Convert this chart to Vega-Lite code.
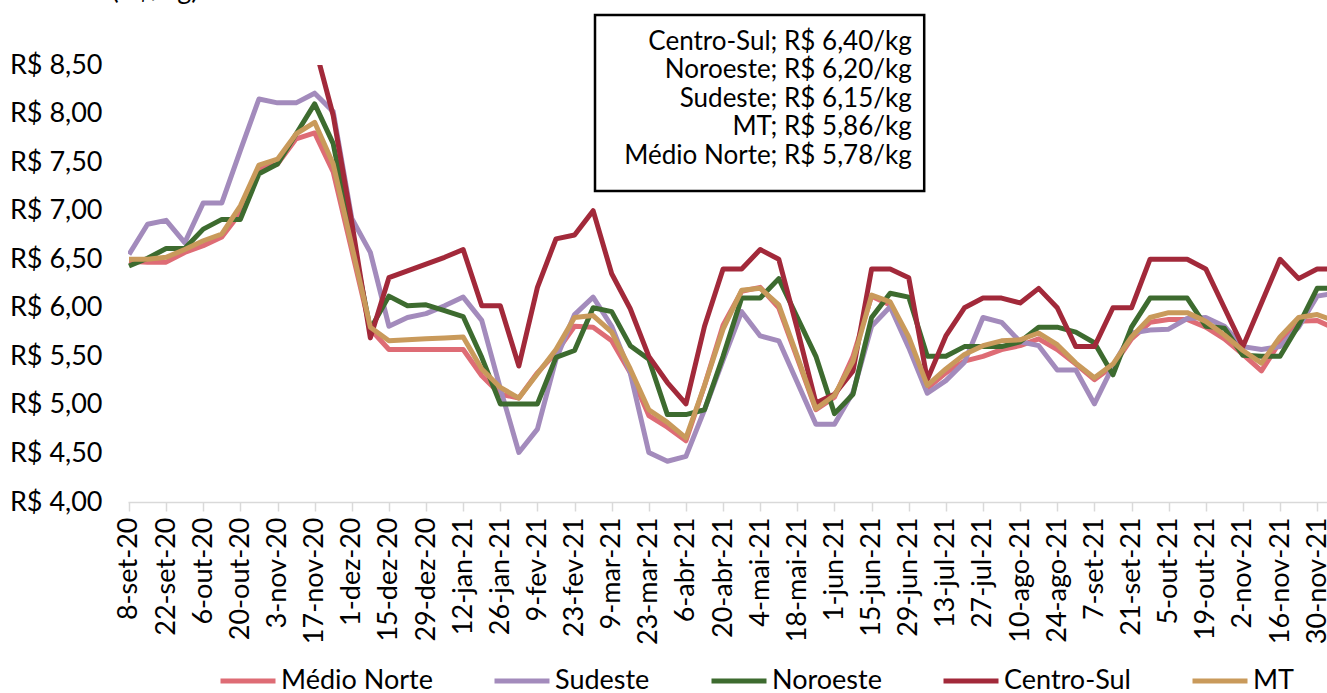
{
  "$schema": "https://vega.github.io/schema/vega-lite/v6.json",
  "width": 1199,
  "height": 437,
  "autosize": "none",
  "padding": {"left": 128, "top": 65, "right": 0, "bottom": 191},
  "background": "white",
  "config": {"view": {"stroke": null}, "font": "Lato", "axisX": {"labelOverlap": false, "labelFlush": false, "labelBound": false}},
  "layer": [
    {
      "data": {"values": [
        {"d": "2020-09-08", "Médio Norte": 6.48, "Sudeste": 6.55, "Noroeste": 6.43, "Centro-Sul": null, "MT": 6.50},
        {"d": "2020-09-15", "Médio Norte": 6.47, "Sudeste": 6.86, "Noroeste": 6.51, "Centro-Sul": null, "MT": 6.50},
        {"d": "2020-09-22", "Médio Norte": 6.47, "Sudeste": 6.90, "Noroeste": 6.61, "Centro-Sul": null, "MT": 6.52},
        {"d": "2020-09-29", "Médio Norte": 6.57, "Sudeste": 6.67, "Noroeste": 6.61, "Centro-Sul": null, "MT": 6.60},
        {"d": "2020-10-06", "Médio Norte": 6.64, "Sudeste": 7.08, "Noroeste": 6.81, "Centro-Sul": null, "MT": 6.69},
        {"d": "2020-10-13", "Médio Norte": 6.73, "Sudeste": 7.08, "Noroeste": 6.91, "Centro-Sul": null, "MT": 6.76},
        {"d": "2020-10-20", "Médio Norte": 6.98, "Sudeste": 7.62, "Noroeste": 6.91, "Centro-Sul": null, "MT": 7.05},
        {"d": "2020-10-27", "Médio Norte": 7.43, "Sudeste": 8.15, "Noroeste": 7.38, "Centro-Sul": null, "MT": 7.47},
        {"d": "2020-11-03", "Médio Norte": 7.48, "Sudeste": 8.11, "Noroeste": 7.48, "Centro-Sul": null, "MT": 7.53},
        {"d": "2020-11-10", "Médio Norte": 7.74, "Sudeste": 8.11, "Noroeste": 7.79, "Centro-Sul": null, "MT": 7.79},
        {"d": "2020-11-17", "Médio Norte": 7.80, "Sudeste": 8.21, "Noroeste": 8.10, "Centro-Sul": 8.70, "MT": 7.91},
        {"d": "2020-11-24", "Médio Norte": 7.40, "Sudeste": 8.02, "Noroeste": 7.69, "Centro-Sul": 7.98, "MT": 7.48},
        {"d": "2020-12-01", "Médio Norte": 6.59, "Sudeste": 6.92, "Noroeste": 6.74, "Centro-Sul": 6.88, "MT": 6.64},
        {"d": "2020-12-08", "Médio Norte": 5.78, "Sudeste": 6.57, "Noroeste": 5.78, "Centro-Sul": 5.69, "MT": 5.80},
        {"d": "2020-12-15", "Médio Norte": 5.57, "Sudeste": 5.81, "Noroeste": 6.12, "Centro-Sul": 6.31, "MT": 5.66},
        {"d": "2020-12-22", "Médio Norte": 5.57, "Sudeste": 5.90, "Noroeste": 6.02, "Centro-Sul": 6.38, "MT": 5.67},
        {"d": "2020-12-29", "Médio Norte": 5.57, "Sudeste": 5.94, "Noroeste": 6.03, "Centro-Sul": 6.45, "MT": 5.68},
        {"d": "2021-01-05", "Médio Norte": 5.57, "Sudeste": 6.02, "Noroeste": 5.97, "Centro-Sul": 6.52, "MT": 5.69},
        {"d": "2021-01-12", "Médio Norte": 5.57, "Sudeste": 6.11, "Noroeste": 5.91, "Centro-Sul": 6.60, "MT": 5.70},
        {"d": "2021-01-19", "Médio Norte": 5.30, "Sudeste": 5.87, "Noroeste": 5.49, "Centro-Sul": 6.02, "MT": 5.37},
        {"d": "2021-01-26", "Médio Norte": 5.11, "Sudeste": 5.17, "Noroeste": 5.01, "Centro-Sul": 6.02, "MT": 5.18},
        {"d": "2021-02-02", "Médio Norte": 5.07, "Sudeste": 4.51, "Noroeste": 5.01, "Centro-Sul": 5.40, "MT": 5.07},
        {"d": "2021-02-09", "Médio Norte": 5.33, "Sudeste": 4.75, "Noroeste": 5.01, "Centro-Sul": 6.21, "MT": 5.32},
        {"d": "2021-02-16", "Médio Norte": 5.54, "Sudeste": 5.47, "Noroeste": 5.49, "Centro-Sul": 6.71, "MT": 5.57},
        {"d": "2021-02-23", "Médio Norte": 5.81, "Sudeste": 5.93, "Noroeste": 5.56, "Centro-Sul": 6.75, "MT": 5.90},
        {"d": "2021-03-02", "Médio Norte": 5.80, "Sudeste": 6.11, "Noroeste": 6.00, "Centro-Sul": 7.00, "MT": 5.92},
        {"d": "2021-03-09", "Médio Norte": 5.66, "Sudeste": 5.81, "Noroeste": 5.96, "Centro-Sul": 6.35, "MT": 5.75},
        {"d": "2021-03-16", "Médio Norte": 5.33, "Sudeste": 5.33, "Noroeste": 5.61, "Centro-Sul": 5.99, "MT": 5.37},
        {"d": "2021-03-23", "Médio Norte": 4.89, "Sudeste": 4.51, "Noroeste": 5.47, "Centro-Sul": 5.50, "MT": 4.95},
        {"d": "2021-03-30", "Médio Norte": 4.77, "Sudeste": 4.42, "Noroeste": 4.90, "Centro-Sul": 5.23, "MT": 4.82},
        {"d": "2021-04-06", "Médio Norte": 4.63, "Sudeste": 4.47, "Noroeste": 4.90, "Centro-Sul": 5.01, "MT": 4.66},
        {"d": "2021-04-13", "Médio Norte": 5.20, "Sudeste": 4.95, "Noroeste": 4.95, "Centro-Sul": 5.81, "MT": 5.20},
        {"d": "2021-04-20", "Médio Norte": 5.82, "Sudeste": 5.46, "Noroeste": 5.50, "Centro-Sul": 6.40, "MT": 5.78},
        {"d": "2021-04-27", "Médio Norte": 6.17, "Sudeste": 5.96, "Noroeste": 6.10, "Centro-Sul": 6.40, "MT": 6.18},
        {"d": "2021-05-04", "Médio Norte": 6.21, "Sudeste": 5.71, "Noroeste": 6.10, "Centro-Sul": 6.60, "MT": 6.20},
        {"d": "2021-05-11", "Médio Norte": 6.00, "Sudeste": 5.66, "Noroeste": 6.30, "Centro-Sul": 6.50, "MT": 6.03},
        {"d": "2021-05-18", "Médio Norte": 5.48, "Sudeste": 5.23, "Noroeste": 5.90, "Centro-Sul": 5.78, "MT": 5.50},
        {"d": "2021-05-25", "Médio Norte": 4.95, "Sudeste": 4.80, "Noroeste": 5.50, "Centro-Sul": 5.02, "MT": 4.96},
        {"d": "2021-06-01", "Médio Norte": 5.08, "Sudeste": 4.80, "Noroeste": 4.91, "Centro-Sul": 5.11, "MT": 5.10},
        {"d": "2021-06-08", "Médio Norte": 5.50, "Sudeste": 5.13, "Noroeste": 5.11, "Centro-Sul": 5.35, "MT": 5.45},
        {"d": "2021-06-15", "Médio Norte": 6.12, "Sudeste": 5.81, "Noroeste": 5.90, "Centro-Sul": 6.40, "MT": 6.13},
        {"d": "2021-06-22", "Médio Norte": 6.03, "Sudeste": 6.01, "Noroeste": 6.15, "Centro-Sul": 6.40, "MT": 6.06},
        {"d": "2021-06-29", "Médio Norte": 5.68, "Sudeste": 5.59, "Noroeste": 6.11, "Centro-Sul": 6.31, "MT": 5.70},
        {"d": "2021-07-06", "Médio Norte": 5.17, "Sudeste": 5.12, "Noroeste": 5.50, "Centro-Sul": 5.26, "MT": 5.20},
        {"d": "2021-07-13", "Médio Norte": 5.33, "Sudeste": 5.25, "Noroeste": 5.50, "Centro-Sul": 5.71, "MT": 5.37},
        {"d": "2021-07-20", "Médio Norte": 5.45, "Sudeste": 5.44, "Noroeste": 5.60, "Centro-Sul": 6.00, "MT": 5.52},
        {"d": "2021-07-27", "Médio Norte": 5.50, "Sudeste": 5.90, "Noroeste": 5.60, "Centro-Sul": 6.10, "MT": 5.61},
        {"d": "2021-08-03", "Médio Norte": 5.57, "Sudeste": 5.85, "Noroeste": 5.60, "Centro-Sul": 6.10, "MT": 5.66},
        {"d": "2021-08-10", "Médio Norte": 5.61, "Sudeste": 5.65, "Noroeste": 5.65, "Centro-Sul": 6.05, "MT": 5.67},
        {"d": "2021-08-17", "Médio Norte": 5.68, "Sudeste": 5.61, "Noroeste": 5.80, "Centro-Sul": 6.20, "MT": 5.74},
        {"d": "2021-08-24", "Médio Norte": 5.57, "Sudeste": 5.36, "Noroeste": 5.80, "Centro-Sul": 6.00, "MT": 5.62},
        {"d": "2021-08-31", "Médio Norte": 5.42, "Sudeste": 5.36, "Noroeste": 5.75, "Centro-Sul": 5.60, "MT": 5.43},
        {"d": "2021-09-07", "Médio Norte": 5.26, "Sudeste": 5.01, "Noroeste": 5.64, "Centro-Sul": 5.60, "MT": 5.28},
        {"d": "2021-09-14", "Médio Norte": 5.40, "Sudeste": 5.40, "Noroeste": 5.31, "Centro-Sul": 6.00, "MT": 5.42},
        {"d": "2021-09-21", "Médio Norte": 5.68, "Sudeste": 5.74, "Noroeste": 5.80, "Centro-Sul": 6.00, "MT": 5.70},
        {"d": "2021-09-28", "Médio Norte": 5.85, "Sudeste": 5.77, "Noroeste": 6.10, "Centro-Sul": 6.50, "MT": 5.90},
        {"d": "2021-10-05", "Médio Norte": 5.88, "Sudeste": 5.78, "Noroeste": 6.10, "Centro-Sul": 6.50, "MT": 5.95},
        {"d": "2021-10-12", "Médio Norte": 5.88, "Sudeste": 5.89, "Noroeste": 6.10, "Centro-Sul": 6.50, "MT": 5.95},
        {"d": "2021-10-19", "Médio Norte": 5.80, "Sudeste": 5.90, "Noroeste": 5.81, "Centro-Sul": 6.40, "MT": 5.86},
        {"d": "2021-10-26", "Médio Norte": 5.68, "Sudeste": 5.81, "Noroeste": 5.79, "Centro-Sul": 6.00, "MT": 5.72},
        {"d": "2021-11-02", "Médio Norte": 5.52, "Sudeste": 5.60, "Noroeste": 5.51, "Centro-Sul": 5.60, "MT": 5.56},
        {"d": "2021-11-09", "Médio Norte": 5.35, "Sudeste": 5.57, "Noroeste": 5.50, "Centro-Sul": 6.05, "MT": 5.43},
        {"d": "2021-11-16", "Médio Norte": 5.65, "Sudeste": 5.60, "Noroeste": 5.50, "Centro-Sul": 6.50, "MT": 5.70},
        {"d": "2021-11-23", "Médio Norte": 5.86, "Sudeste": 5.80, "Noroeste": 5.82, "Centro-Sul": 6.30, "MT": 5.90},
        {"d": "2021-11-30", "Médio Norte": 5.87, "Sudeste": 6.12, "Noroeste": 6.20, "Centro-Sul": 6.40, "MT": 5.93},
        {"d": "2021-12-07", "Médio Norte": 5.78, "Sudeste": 6.15, "Noroeste": 6.20, "Centro-Sul": 6.40, "MT": 5.86}
      ]},
      "transform": [{"fold": ["Médio Norte", "Sudeste", "Noroeste", "Centro-Sul", "MT"], "as": ["regiao", "preco"]}],
      "encoding": {
        "x": {
          "field": "d", "type": "temporal", "title": null,
          "scale": {"type": "utc", "domain": [{"year": 2020, "month": 9, "date": 7, "hours": 15, "utc": true}, {"year": 2021, "month": 12, "date": 3, "hours": 17, "utc": true}]},
          "axis": {
            "values": [
              {"year": 2020, "month": 9, "date": 8, "utc": true},
              {"year": 2020, "month": 9, "date": 22, "utc": true},
              {"year": 2020, "month": 10, "date": 6, "utc": true},
              {"year": 2020, "month": 10, "date": 20, "utc": true},
              {"year": 2020, "month": 11, "date": 3, "utc": true},
              {"year": 2020, "month": 11, "date": 17, "utc": true},
              {"year": 2020, "month": 12, "date": 1, "utc": true},
              {"year": 2020, "month": 12, "date": 15, "utc": true},
              {"year": 2020, "month": 12, "date": 29, "utc": true},
              {"year": 2021, "month": 1, "date": 12, "utc": true},
              {"year": 2021, "month": 1, "date": 26, "utc": true},
              {"year": 2021, "month": 2, "date": 9, "utc": true},
              {"year": 2021, "month": 2, "date": 23, "utc": true},
              {"year": 2021, "month": 3, "date": 9, "utc": true},
              {"year": 2021, "month": 3, "date": 23, "utc": true},
              {"year": 2021, "month": 4, "date": 6, "utc": true},
              {"year": 2021, "month": 4, "date": 20, "utc": true},
              {"year": 2021, "month": 5, "date": 4, "utc": true},
              {"year": 2021, "month": 5, "date": 18, "utc": true},
              {"year": 2021, "month": 6, "date": 1, "utc": true},
              {"year": 2021, "month": 6, "date": 15, "utc": true},
              {"year": 2021, "month": 6, "date": 29, "utc": true},
              {"year": 2021, "month": 7, "date": 13, "utc": true},
              {"year": 2021, "month": 7, "date": 27, "utc": true},
              {"year": 2021, "month": 8, "date": 10, "utc": true},
              {"year": 2021, "month": 8, "date": 24, "utc": true},
              {"year": 2021, "month": 9, "date": 7, "utc": true},
              {"year": 2021, "month": 9, "date": 21, "utc": true},
              {"year": 2021, "month": 10, "date": 5, "utc": true},
              {"year": 2021, "month": 10, "date": 19, "utc": true},
              {"year": 2021, "month": 11, "date": 2, "utc": true},
              {"year": 2021, "month": 11, "date": 16, "utc": true},
              {"year": 2021, "month": 11, "date": 30, "utc": true}
            ],
            "tickCount": 100,
            "labelExpr": "utcdate(datum.value) + '-' + ['jan','fev','mar','abr','mai','jun','jul','ago','set','out','nov','dez'][utcmonth(datum.value)] + '-' + (utcyear(datum.value) % 100)",
            "labelAngle": 270, "labelFontSize": 27, "labelFont": "Lato", "labelColor": "black",
            "labelOverlap": {"expr": "false"}, "labelFlush": false, "labelBound": false, "labelPadding": 6,
            "domainColor": "#D9D9D9", "domainWidth": 1.5, "tickColor": "#D9D9D9", "tickWidth": 1.5, "tickSize": 9,
            "grid": false
          }
        },
        "y": {
          "field": "preco", "type": "quantitative", "title": null,
          "scale": {"domain": [4, 8.5], "nice": false, "zero": false},
          "axis": {
            "values": [4, 4.5, 5, 5.5, 6, 6.5, 7, 7.5, 8, 8.5],
            "tickCount": 20,
            "labelExpr": "'R$ ' + replace(format(datum.value, '.2f'), '.', ',')",
            "labelFontSize": 27, "labelFont": "Lato", "labelColor": "black",
            "ticks": false, "tickSize": 0, "domain": false, "grid": false, "labelPadding": 26
          }
        },
        "color": {
          "field": "regiao", "type": "nominal",
          "scale": {"domain": ["Médio Norte", "Sudeste", "Noroeste", "Centro-Sul", "MT"], "range": ["#DE6C75", "#A38BBC", "#3D6B2F", "#A2293A", "#C99A5B"]},
          "legend": {
            "orient": "none", "legendX": 90, "legendY": 586, "direction": "horizontal", "title": null,
            "symbolType": "stroke", "symbolStrokeWidth": 5, "symbolSize": 3025,
            "labelFontSize": 27, "labelFont": "Lato", "labelColor": "black",
            "columnPadding": 51, "labelOffset": 3
          }
        }
      },
      "layer": [
        {"transform": [{"filter": "datum.regiao === 'Médio Norte'"}], "mark": {"type": "line", "strokeWidth": 5, "clip": true, "strokeJoin": "round"}},
        {"transform": [{"filter": "datum.regiao === 'Sudeste'"}], "mark": {"type": "line", "strokeWidth": 5, "clip": true, "strokeJoin": "round"}},
        {"transform": [{"filter": "datum.regiao === 'Noroeste'"}], "mark": {"type": "line", "strokeWidth": 5, "clip": true, "strokeJoin": "round"}},
        {"transform": [{"filter": "datum.regiao === 'Centro-Sul'"}], "mark": {"type": "line", "strokeWidth": 5, "clip": true, "strokeJoin": "round"}},
        {"transform": [{"filter": "datum.regiao === 'MT'"}], "mark": {"type": "line", "strokeWidth": 5, "clip": true, "strokeJoin": "round"}}
      ]
    },
    {
      "data": {"values": [{"caixa": "rótulos"}]},
      "mark": {"type": "rect", "fill": "white", "stroke": "black", "strokeWidth": 2.5},
      "encoding": {
        "x": {"datum": {"year": 2021, "month": 3, "date": 2, "hours": 17, "utc": true}, "type": "temporal"},
        "x2": {"datum": {"year": 2021, "month": 7, "date": 4, "hours": 20, "utc": true}},
        "y": {"datum": 9.015, "type": "quantitative"},
        "y2": {"datum": 7.2025}
      }
    },
    {
      "data": {"values": [{"caixa": "rótulos"}]},
      "mark": {"type": "text", "align": "right", "baseline": "alphabetic", "font": "Lato", "fontSize": 26, "lineHeight": 28.5, "color": "black",
        "text": ["Centro-Sul; R$ 6,40/kg", "Noroeste; R$ 6,20/kg", "Sudeste; R$ 6,15/kg", "MT; R$ 5,86/kg", "Médio Norte; R$ 5,78/kg"]},
      "encoding": {
        "x": {"datum": {"year": 2021, "month": 6, "date": 30, "hours": 3, "utc": true}, "type": "temporal"},
        "y": {"datum": 8.655, "type": "quantitative"}
      }
    },
    {
      "data": {"values": [{"titulo": "(R$/kg)"}]},
      "mark": {"type": "text", "align": "center", "baseline": "alphabetic", "font": "Lato", "fontSize": 27, "color": "black"},
      "encoding": {
        "text": {"field": "titulo"},
        "x": {"datum": {"year": 2020, "month": 9, "date": 17, "hours": 20, "utc": true}, "type": "temporal"},
        "y": {"datum": 9.18, "type": "quantitative"}
      }
    }
  ]
}
